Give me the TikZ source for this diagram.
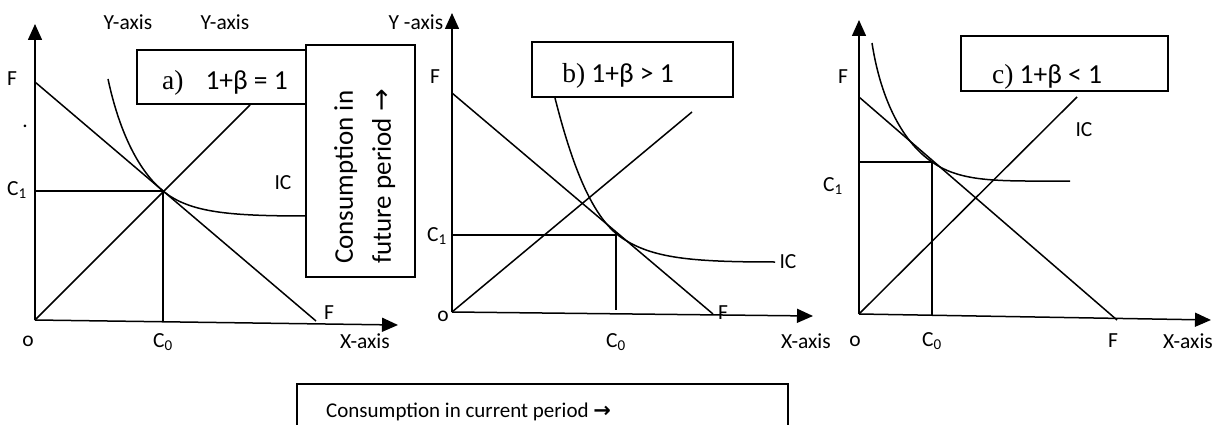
\documentclass[tikz,border=0pt]{standalone}
\usepackage{fontspec}
\setmainfont{Carlito}
\newfontfamily\boxserif{Liberation Serif}
\newfontfamily\arrowfont{DejaVu Sans}
\usetikzlibrary{arrows.meta}

\tikzset{
    axis/.style={line width=1.5pt, -{Triangle[width=14pt,length=16pt]}},
    curve/.style={line width=1.5pt},
    lbl/.style={inner sep=0pt, font=\fontsize{21.5}{24}\selectfont},
    boxline/.style={line width=1.5pt, fill=white},
    boxtext/.style={inner sep=0pt, font=\fontsize{27.5}{30}\selectfont}
}

\begin{document}
\begin{tikzpicture}[x=1pt, y=-1pt]
    \useasboundingbox (0,0) rectangle (1213,425);

    % panel a
    \coordinate (Oa) at (35,320);
    \coordinate (Ya) at (35,24);
    \coordinate (Xa) at (398,325);
    \coordinate (Fa) at (35,82);
    \coordinate (Ga) at (316,321);
    \coordinate (Ea) at (163,191);
    \coordinate (Ca) at (35,191);
    \coordinate (Da) at (163,321.5);
    \coordinate (Ra) at (250,105);

    \draw[axis] (Oa) -- (Ya);
    \draw[axis] (Oa) -- (Xa);
    \draw[curve] (Fa) -- (Ga);
    \draw[curve] (Ca) -- (Ea) -- (Da);
    \draw[curve] (Oa) -- (Ra);
    \draw[curve] (108,79) .. controls (120,135) and (140,172) .. (Ea)
        .. controls (190,213) and (230,216) .. (310,216);

    \draw[boxline] (137,50) rectangle (320,104);
    \node[boxtext] (ta) at (225,83) {{\boxserif a)}\hspace{22pt}1+β = 1};
    \draw[boxline] (306,45) rectangle (415,277);
    \node[inner sep=0pt, rotate=90, anchor=north west, align=left,
        font=\fontsize{27}{38}\selectfont] (tv) at (334,264)
        {Consumption in\\future period {\arrowfont →}};

    \node[lbl] (ya1) at (128,22) {Y-axis};
    \node[lbl] (ya2) at (225,22) {Y-axis};
    \node[lbl] (ya3) at (416,22) {Y -axis};
    \node[lbl] (fa1) at (12,79) {F};
    \node[lbl] (dot) at (25,126) {.};
    \node[lbl] (c1a) at (17,190) {C\textsubscript{1}};
    \node[lbl] (ica) at (283,183) {IC};
    \node[lbl] (fa2) at (329,313) {F};
    \node[lbl] (oa) at (28,341) {o};
    \node[lbl] (c0a) at (163,342) {C\textsubscript{0}};
    \node[lbl] (xa) at (365,341) {X-axis};

    % panel b
    \coordinate (Ob) at (452,312);
    \coordinate (Yb) at (452,13);
    \coordinate (Xb) at (813,316);
    \coordinate (Fb) at (452,93);
    \coordinate (Gb) at (713,314);
    \coordinate (Eb) at (616,235);
    \coordinate (Cb) at (452,235);
    \coordinate (Db) at (616,310);
    \coordinate (Rb) at (692,112);

    \draw[axis] (Ob) -- (Yb);
    \draw[axis] (Ob) -- (Xb);
    \draw[curve] (Fb) -- (Gb);
    \draw[curve] (Cb) -- (Eb) -- (Db);
    \draw[curve] (Ob) -- (Rb);
    \draw[curve] (555,98) .. controls (572,165) and (592,218) .. (622,238)
        .. controls (652,258) and (690,262) .. (775,262);

    \draw[boxline] (532,42) rectangle (733,97);
    \node[boxtext] (tb) at (618,76) {{\boxserif b)} 1+β > 1};

    \node[lbl] (fb1) at (435,77) {F};
    \node[lbl] (c1b) at (437,236) {C\textsubscript{1}};
    \node[lbl] (icb) at (788,262) {IC};
    \node[lbl] (fb2) at (723,313) {F};
    \node[lbl] (ob) at (443,316) {o};
    \node[lbl] (c0b) at (616,342) {C\textsubscript{0}};
    \node[lbl] (xb) at (806,341) {X-axis};

    % panel c
    \coordinate (Oc) at (859,314);
    \coordinate (Yc) at (859,20);
    \coordinate (Xc) at (1211,320);
    \coordinate (Fc) at (859,97);
    \coordinate (Gc) at (1117,320);
    \coordinate (Ec) at (932,162);
    \coordinate (Cc) at (859,162);
    \coordinate (Dc) at (932,315);
    \coordinate (Rc) at (1077,97);

    \draw[axis] (Oc) -- (Yc);
    \draw[axis] (Oc) -- (Xc);
    \draw[curve] (Fc) -- (Gc);
    \draw[curve] (Cc) -- (Ec) -- (Dc);
    \draw[curve] (Oc) -- (Rc);
    \draw[curve] (872,43) .. controls (880,95) and (900,140) .. (Ec)
        .. controls (962,183) and (1000,181) .. (1070,181);

    \draw[boxline] (961,36) rectangle (1168,91);
    \node[boxtext] (tc) at (1047,77) {{\boxserif c)} 1+β < 1};

    \node[lbl] (fc1) at (843,77) {F};
    \node[lbl] (c1c) at (833,186) {C\textsubscript{1}};
    \node[lbl] (icc) at (1084,130) {IC};
    \node[lbl] (oc) at (855,341) {o};
    \node[lbl] (c0c) at (932,341) {C\textsubscript{0}};
    \node[lbl] (fc2) at (1113,341) {F};
    \node[lbl] (xc) at (1188,341) {X-axis};

    % bottom caption box
    \draw[line width=1.5pt] (297,432) -- (297,384) -- (788,384) -- (788,432);
    \node[inner sep=0pt, anchor=base west, font=\fontsize{21}{23}\selectfont]
        (cap) at (326,417) {Consumption in current period {\arrowfont\bfseries →}};
\end{tikzpicture}
\end{document}
